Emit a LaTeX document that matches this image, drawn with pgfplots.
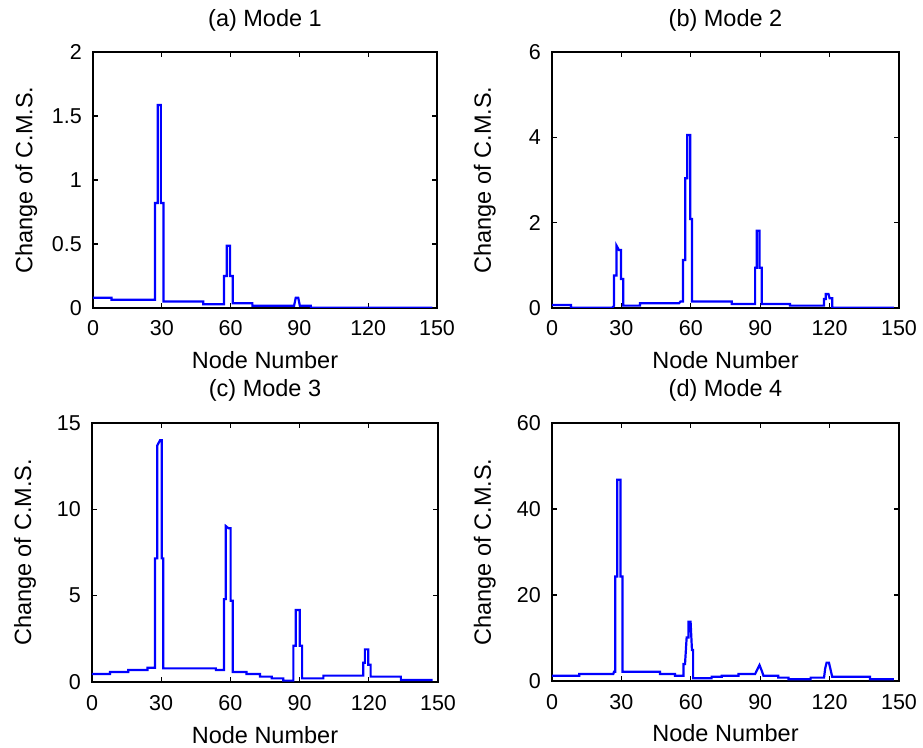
\documentclass[border=0pt]{standalone}
\usepackage{fontspec}
\setmainfont{Liberation Sans}
\usepackage{pgfplots}
\pgfplotsset{compat=1.18}
\pgfplotsset{myax/.style={
  scale only axis, xmin=0, xmax=150, xtick={0,30,...,150},
  tick align=inside, major tick length=5pt,
  axis line style={line width=1.3pt, black},
  every tick/.style={black, line width=1.1pt},
  /pgf/number format/assume math mode=true,
  tick label style={font=\fontsize{21.5}{25}\selectfont},
  xticklabel style={anchor=base, yshift=-28pt, inner sep=0pt},
  yticklabel style={anchor=east, xshift=-11pt, inner sep=0pt},
  title style={at={(axis description cs:0.5,1.078)}, anchor=base, inner sep=0pt},
  xlabel style={at={(axis description cs:0.5,-0.236)}, anchor=base, inner sep=0pt},
  ylabel style={at={(axis description cs:-0.176,0.5)}, anchor=base, inner sep=0pt},
  xlabel={Node Number}, ylabel={Change of C.M.S.},
}}
\begin{document}
\fontsize{23.5}{27}\selectfont
\begin{tikzpicture}
\useasboundingbox (0,0) rectangle (923pt,747pt);
% (a)
\begin{axis}[myax, at={(93pt,439pt)}, anchor=south west, width=344pt, height=256pt,
  ymin=0, ymax=2, ytick={0,0.5,1,1.5,2}, title={(a) Mode 1}]
\addplot[blue, line width=2.2pt, no marks] coordinates {(0,0.08)(8.1,0.08)(8.1,0.065)(27,0.065)(27,0.82)(28.2,0.82)(28.2,1.586)(29.6,1.586)(29.6,0.82)(30.7,0.82)(30.7,0.05)(48.1,0.05)(48.1,0.03)(57.1,0.03)(57.1,0.25)(58.3,0.25)(58.3,0.487)(59.7,0.487)(59.7,0.25)(60.9,0.25)(60.9,0.037)(69.5,0.037)(69.5,0.018)(87.7,0.018)(88.4,0.08)(89.5,0.08)(90.2,0.018)(95,0.018)(95,0.003)(148,0.003)};
\end{axis}
% (b)
\begin{axis}[myax, at={(552pt,439pt)}, anchor=south west, width=347pt, height=256pt,
  ymin=0, ymax=6, ytick={0,2,4,6}, title={(b) Mode 2}]
\addplot[blue, line width=2.2pt, no marks] coordinates {(0,0.07)(8.2,0.07)(8.2,0.008)(26.1,0.008)(26.8,0.05)(26.8,0.76)(27.9,0.76)(27.9,1.46)(28.9,1.36)(29.8,1.36)(29.8,0.68)(30.8,0.68)(30.8,0.055)(38,0.055)(38,0.11)(54.9,0.11)(55.5,0.15)(56.6,0.15)(56.6,1.125)(57.6,1.125)(57.6,3.04)(58.5,3.04)(58.5,4.055)(59.8,4.055)(59.8,2.086)(60.5,2.086)(60.5,0.15)(77.7,0.15)(77.7,0.094)(87.8,0.094)(87.8,0.945)(88.5,0.945)(88.5,1.81)(89.7,1.81)(89.7,0.945)(90.7,0.945)(90.7,0.094)(102.9,0.094)(102.9,0.055)(117.6,0.055)(117.6,0.21)(118.3,0.21)(118.3,0.33)(119.5,0.33)(120,0.23)(121.1,0.23)(121.1,0.008)(147.8,0.008)};
\end{axis}
% (c)
\begin{axis}[myax, at={(92pt,65pt)}, anchor=south west, width=346pt, height=259pt,
  ymin=0, ymax=15, ytick={0,5,10,15}, title={(c) Mode 3}]
\addplot[blue, line width=2.2pt, no marks] coordinates {(0,0.46)(7.8,0.46)(7.8,0.58)(15.7,0.58)(15.7,0.69)(24.1,0.69)(24.1,0.83)(27.3,0.83)(27.3,7.16)(28.3,7.16)(28.3,13.7)(29.5,14.0)(30.2,14.0)(30.2,7.16)(30.9,7.16)(30.9,0.79)(53.7,0.79)(53.7,0.69)(57.2,0.69)(57.2,4.8)(58,4.8)(58,9.03)(59.2,8.9)(60.1,8.9)(60.1,4.7)(61.0,4.7)(61.0,0.58)(67,0.58)(67,0.46)(72.8,0.46)(72.8,0.31)(77.9,0.31)(77.9,0.21)(82.9,0.21)(82.9,0.08)(87.3,0.08)(87.3,2.1)(88.3,2.1)(88.3,4.17)(90.1,4.17)(90.1,2.1)(91.1,2.1)(91.1,0.21)(100.3,0.21)(100.3,0.37)(117.6,0.37)(117.6,1.12)(118.3,1.12)(118.3,1.89)(119.8,1.89)(119.8,1.0)(120.8,1.0)(120.8,0.31)(133.9,0.31)(133.9,0.12)(147.7,0.12)};
\end{axis}
% (d)
\begin{axis}[myax, at={(552pt,66pt)}, anchor=south west, width=347pt, height=258pt,
  ymin=0, ymax=60, ytick={0,20,40,60}, title={(d) Mode 4}]
\addplot[blue, line width=2.2pt, no marks] coordinates {(0,1.24)(11.8,1.24)(11.8,1.63)(26.5,1.63)(26.8,2.17)(27.3,2.17)(27.3,24.3)(28.2,24.3)(28.2,46.8)(29.6,46.8)(29.6,24.3)(30.5,24.3)(30.5,2.17)(46.7,2.17)(46.7,1.63)(53.2,1.63)(53.2,1.24)(56.8,1.24)(56.8,3.95)(57.5,3.95)(58.2,10.1)(59,10.1)(59,13.8)(59.9,13.8)(60.5,7.2)(61,7.2)(61,0.62)(69,0.62)(69,1.0)(73.4,1.0)(73.4,1.24)(80.6,1.24)(80.6,1.63)(87.8,1.63)(89.7,3.7)(90.8,2.2)(91.4,1.24)(97.8,1.24)(97.8,0.78)(102.2,0.78)(102.2,0.39)(111.8,0.39)(111.8,0.78)(117.6,0.78)(118.1,2.95)(118.7,4.27)(119.7,4.27)(120.3,2.95)(121.1,1.0)(137.5,1.0)(137.5,0.39)(147.8,0.39)};
\end{axis}
\end{tikzpicture}
\end{document}
